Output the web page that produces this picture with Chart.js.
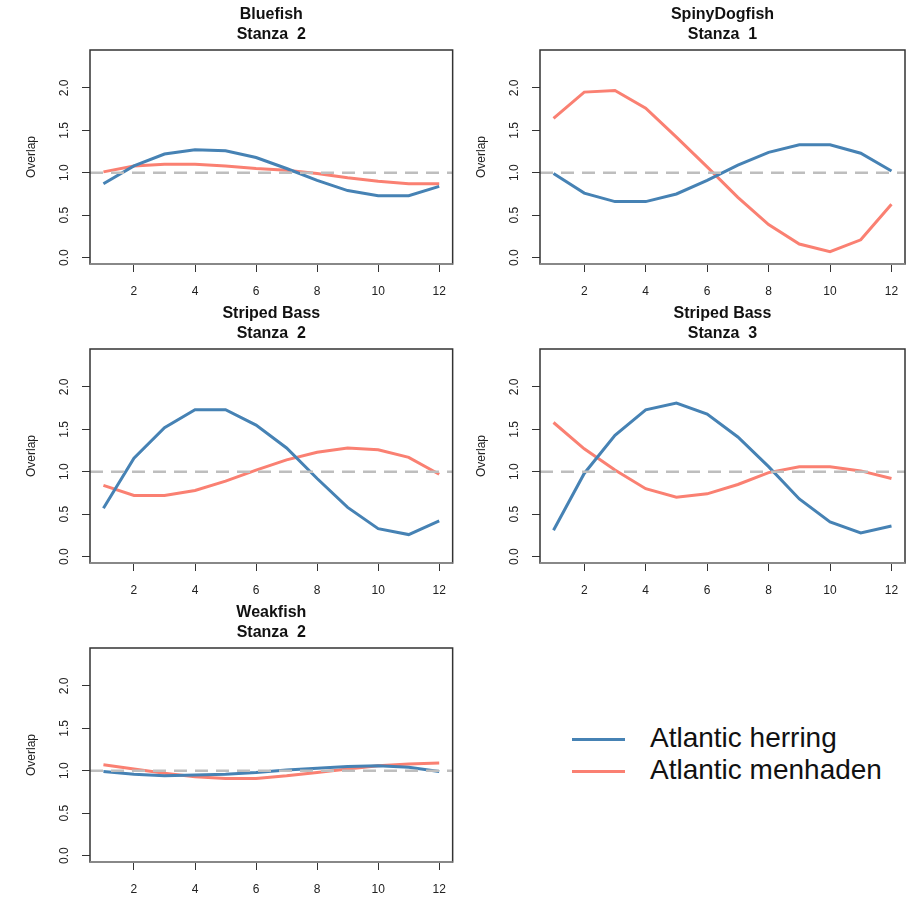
<!DOCTYPE html>
<html>
<head>
<meta charset="utf-8">
<script src="https://cdn.jsdelivr.net/npm/chart.js@4/dist/chart.umd.min.js"></script>
<style>
  body { margin: 0; background: #fff; width: 915px; height: 897px; position: relative; overflow: hidden;
         font-family: "Liberation Sans", Arial, sans-serif; }
  canvas { position: absolute; }
  .key { position: absolute; height: 3px; width: 53px; left: 572px; }
  .keytext { position: absolute; left: 650px; font-size: 28px; line-height: 32px; color: #111; white-space: nowrap; }
</style>
</head>
<body>
<canvas id="p1" width="458" height="301" style="left:0;top:0"></canvas>
<canvas id="p2" width="460" height="301" style="left:455px;top:0"></canvas>
<canvas id="p3" width="458" height="301" style="left:0;top:299px"></canvas>
<canvas id="p4" width="460" height="301" style="left:455px;top:299px"></canvas>
<canvas id="p5" width="458" height="301" style="left:0;top:598px"></canvas>

<div class="key" style="top:738px;background:#4682B4"></div>
<div class="keytext" style="top:722px">Atlantic herring</div>
<div class="key" style="top:770px;background:#FA8072"></div>
<div class="keytext" style="top:754px">Atlantic menhaden</div>

<script>
// months on the x axis
const months = [1, 2, 3, 4, 5, 6, 7, 8, 9, 10, 11, 12];
const xTicks = [2, 4, 6, 8, 10, 12];
const yTicks = [0, 0.5, 1, 1.5, 2];

// overlap values, herring (blue) and menhaden (red)
const bluefishHerring  = [0.87, 1.08, 1.22, 1.27, 1.26, 1.18, 1.05, 0.91, 0.79, 0.73, 0.73, 0.84];
const bluefishMenhaden = [1.01, 1.08, 1.10, 1.10, 1.08, 1.05, 1.03, 0.99, 0.94, 0.90, 0.87, 0.87];

const dogfishHerring  = [0.99, 0.76, 0.66, 0.66, 0.75, 0.91, 1.09, 1.24, 1.33, 1.33, 1.23, 1.02];
const dogfishMenhaden = [1.64, 1.95, 1.97, 1.76, 1.42, 1.07, 0.71, 0.39, 0.16, 0.07, 0.21, 0.63];

const bass2Herring  = [0.57, 1.16, 1.52, 1.73, 1.73, 1.55, 1.28, 0.92, 0.58, 0.33, 0.26, 0.42];
const bass2Menhaden = [0.84, 0.72, 0.72, 0.78, 0.89, 1.02, 1.14, 1.23, 1.28, 1.26, 1.17, 0.97];

const bass3Herring  = [0.31, 0.98, 1.43, 1.73, 1.81, 1.68, 1.41, 1.06, 0.68, 0.41, 0.28, 0.36];
const bass3Menhaden = [1.58, 1.27, 1.02, 0.80, 0.70, 0.74, 0.85, 0.99, 1.06, 1.06, 1.01, 0.92];

const weakfishHerring  = [0.99, 0.96, 0.94, 0.95, 0.96, 0.98, 1.01, 1.03, 1.05, 1.06, 1.04, 0.99];
const weakfishMenhaden = [1.07, 1.02, 0.97, 0.93, 0.91, 0.91, 0.94, 0.98, 1.02, 1.06, 1.08, 1.09];

const panels = [
  { id: "p1", title: ["Bluefish", "Stanza  2"], herring: bluefishHerring, menhaden: bluefishMenhaden, col: 1 },
  { id: "p2", title: ["SpinyDogfish", "Stanza  1"], herring: dogfishHerring, menhaden: dogfishMenhaden, col: 2 },
  { id: "p3", title: ["Striped Bass", "Stanza  2"], herring: bass2Herring, menhaden: bass2Menhaden, col: 1 },
  { id: "p4", title: ["Striped Bass", "Stanza  3"], herring: bass3Herring, menhaden: bass3Menhaden, col: 2 },
  { id: "p5", title: ["Weakfish", "Stanza  2"], herring: weakfishHerring, menhaden: weakfishMenhaden, col: 1 }
];

const FONT = '"Liberation Sans", Arial, sans-serif';

// draws the R-like frame, reference line, titles and rotated y labels
const rFrame = {
  id: "rFrame",
  afterDatasetsDraw(chart) {
    const { ctx, chartArea: a, scales } = chart;
    const y1 = scales.y.getPixelForValue(1);
    ctx.save();
    ctx.strokeStyle = "#BEBEBE";
    ctx.lineWidth = 2.5;
    ctx.setLineDash([13, 8]);
    ctx.beginPath();
    ctx.moveTo(a.left, y1);
    ctx.lineTo(a.right, y1);
    ctx.stroke();
    ctx.restore();
  },
  afterDraw(chart, args, opts) {
    const { ctx, chartArea: a, scales } = chart;
    ctx.save();
    ctx.strokeStyle = "#333";
    ctx.lineWidth = 1.5;
    ctx.strokeRect(a.left, a.top, a.right - a.left, a.bottom - a.top);
    ctx.strokeStyle = "#888";
    ctx.lineWidth = 2;
    ctx.beginPath();
    ctx.moveTo(a.left, a.bottom);
    ctx.lineTo(a.right, a.bottom);
    ctx.stroke();

    const cx = (a.left + a.right) / 2;
    ctx.fillStyle = "#111";
    ctx.font = "bold 16px " + FONT;
    ctx.textAlign = "center";
    ctx.textBaseline = "middle";
    ctx.fillText(opts.title[0], cx, a.top - 35);
    ctx.fillText(opts.title[1], cx, a.top - 15);

    ctx.font = "12px " + FONT;
    ctx.fillStyle = "#222";
    yTicks.forEach(v => {
      const py = scales.y.getPixelForValue(v);
      ctx.save();
      ctx.translate(a.left - 25, py);
      ctx.rotate(-Math.PI / 2);
      ctx.fillText(v.toFixed(1), 0, 0);
      ctx.restore();
    });
    ctx.save();
    ctx.translate(a.left - 58, (a.top + a.bottom) / 2);
    ctx.rotate(-Math.PI / 2);
    ctx.fillText("Overlap", 0, 0);
    ctx.restore();
    ctx.restore();
  }
};

panels.forEach(p => {
  new Chart(document.getElementById(p.id), {
    type: "line",
    data: {
      datasets: [
        {
          label: "Atlantic herring",
          data: months.map((m, i) => ({ x: m, y: p.herring[i] })),
          borderColor: "#4682B4",
          borderWidth: 3,
          pointRadius: 0,
          tension: 0
        },
        {
          label: "Atlantic menhaden",
          data: months.map((m, i) => ({ x: m, y: p.menhaden[i] })),
          borderColor: "#FA8072",
          borderWidth: 3,
          pointRadius: 0,
          tension: 0
        }
      ]
    },
    options: {
      responsive: false,
      devicePixelRatio: 1,
      animation: false,
      layout: { padding: { left: 0, top: 50, right: p.col === 1 ? 3 : 10, bottom: 0 } },
      plugins: {
        legend: { display: false },
        tooltip: { enabled: false },
        rFrame: { title: p.title }
      },
      scales: {
        x: {
          type: "linear",
          min: 0.56,
          max: 12.44,
          afterBuildTicks: s => { s.ticks = xTicks.map(v => ({ value: v })); },
          afterFit: s => { s.height = 37; },
          border: { display: false },
          grid: { drawOnChartArea: false, drawTicks: true, tickLength: 8, color: "#333" },
          ticks: { padding: 12, color: "#222", font: { size: 12, family: FONT } }
        },
        y: {
          min: -0.075,
          max: 2.446,
          afterBuildTicks: s => { s.ticks = yTicks.map(v => ({ value: v })); },
          afterFit: s => { s.width = p.col === 1 ? 90 : 85; },
          border: { display: false },
          grid: { drawOnChartArea: false, drawTicks: true, tickLength: 8, color: "#333" },
          ticks: { display: false }
        }
      }
    },
    plugins: [rFrame]
  });
});
</script>
</body>
</html>
